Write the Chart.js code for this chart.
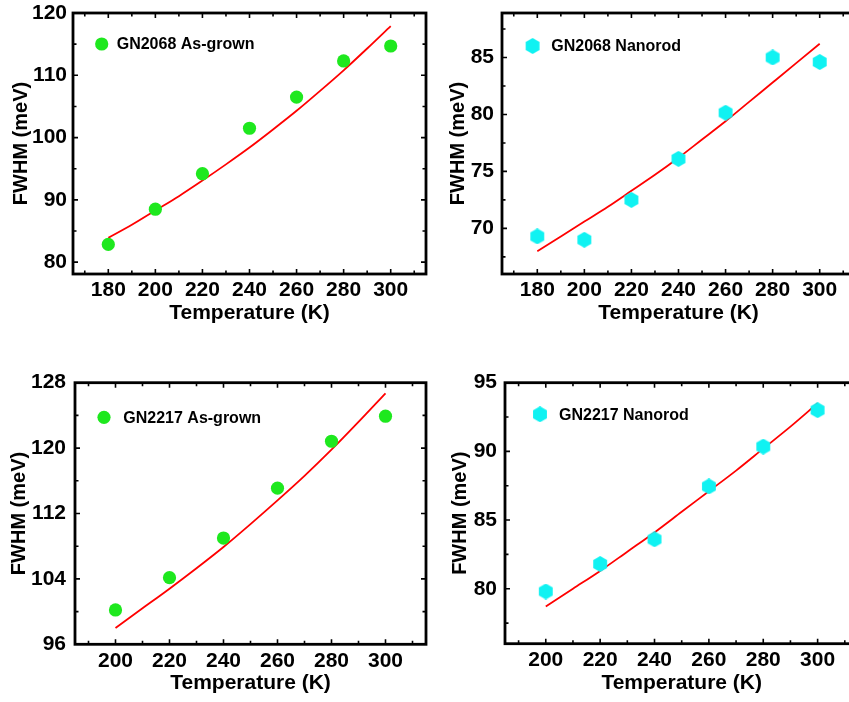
<!DOCTYPE html>
<html>
<head>
<meta charset="utf-8">
<script src="https://cdn.jsdelivr.net/npm/chart.js@4.4.1/dist/chart.umd.min.js"></script>
<style>
  html, body { margin: 0; padding: 0; background: #fff; width: 849px; height: 702px; overflow: hidden; }
  canvas { position: absolute; }
</style>
</head>
<body>
<canvas id="p1" width="440" height="340" style="left:0px; top:0px;"></canvas>
<canvas id="p2" width="440" height="340" style="left:425px; top:0px;"></canvas>
<canvas id="p3" width="440" height="342" style="left:0px; top:360px;"></canvas>
<canvas id="p4" width="440" height="342" style="left:425px; top:360px;"></canvas>
<script>
// --- data ---
const temps2068 = [180, 200, 220, 240, 260, 280, 300];
const fwhmAsGrown2068 = [82.85, 88.5, 94.2, 101.5, 106.5, 112.3, 114.7];
const fwhmNanorod2068 = [69.3, 69.0, 72.5, 76.1, 80.15, 85.0, 84.6];

const fitTemps2068 = [180, 190, 200, 210, 220, 230, 240, 250, 260, 270, 280, 290, 300];
const fitAsGrown2068 = [83.9, 86.0, 88.3, 90.6, 93.1, 95.7, 98.4, 101.3, 104.3, 107.5, 110.8, 114.3, 117.9];
const fitNanorod2068 = [68.0, 69.3, 70.6, 71.9, 73.3, 74.7, 76.2, 77.8, 79.4, 81.1, 82.8, 84.5, 86.2];

const temps2217 = [200, 220, 240, 260, 280, 300];
const fwhmAsGrown2217 = [100.2, 104.15, 109.0, 115.1, 120.84, 123.9];
const fwhmNanorod2217 = [79.8, 81.8, 83.6, 87.45, 90.35, 93.0];

const fitTemps2217 = [200, 210, 220, 230, 240, 250, 260, 270, 280, 290, 300];
const fitAsGrown2217 = [98.0, 100.4, 102.8, 105.3, 107.9, 110.7, 113.6, 116.6, 119.8, 123.2, 126.7];
const fitNanorod2217 = [78.7, 80.0, 81.3, 82.7, 84.1, 85.6, 87.1, 88.6, 90.2, 91.8, 93.5];

// tick labels
const xTicks2068 = [180, 200, 220, 240, 260, 280, 300];
const xTicks2217 = [200, 220, 240, 260, 280, 300];
const yTicksP1 = [80, 90, 100, 110, 120];
const yTicksP2 = [70, 75, 80, 85];
const yTicksP3 = [96, 104, 112, 120, 128];
const yTicksP4 = [80, 85, 90, 95];

const FONT = "'Liberation Sans', Arial, Helvetica, sans-serif";
const GREEN = '#1EE81E';
const CYAN = '#10F2F2';

// hexagon marker (pointy top/bottom)
function hexMarker(size, color) {
    const c = document.createElement('canvas');
    c.width = size; c.height = size;
    const g = c.getContext('2d');
    const r = size / 2, cx = r, cy = r;
    g.fillStyle = color;
    g.beginPath();
    for (let i = 0; i < 6; i++) {
        const a = Math.PI / 2 + i * Math.PI / 3;
        const px = cx + r * Math.cos(a), py = cy + r * Math.sin(a);
        if (i === 0) g.moveTo(px, py); else g.lineTo(px, py);
    }
    g.closePath(); g.fill();
    return c;
}

// box frame + inward ticks on all sides
const framePlugin = {
    id: 'frame',
    afterDatasetsDraw(chart) {
        const { ctx, chartArea: a, scales: { x, y } } = chart;
        ctx.save();
        ctx.strokeStyle = '#000';
        ctx.lineWidth = 1.6;
        const tick = (scale, horiz, len) => (v) => {
            const p = scale.getPixelForValue(v);
            ctx.beginPath();
            if (horiz) {
                ctx.moveTo(p, a.bottom); ctx.lineTo(p, a.bottom - len);
                ctx.moveTo(p, a.top); ctx.lineTo(p, a.top + len);
            } else {
                ctx.moveTo(a.left, p); ctx.lineTo(a.left + len, p);
                ctx.moveTo(a.right, p); ctx.lineTo(a.right - len, p);
            }
            ctx.stroke();
        };
        [[x, true], [y, false]].forEach(([s, horiz]) => {
            const vals = s.ticks.map(t => t.value);
            const step = vals[1] - vals[0];
            vals.forEach(tick(s, horiz, 5));
            const minors = [];
            for (let v = vals[0] - step / 2; v <= s.max; v += step) if (v >= s.min) minors.push(v);
            minors.forEach(tick(s, horiz, 3.5));
        });
        ctx.lineWidth = 2.8;
        ctx.strokeRect(a.left, a.top, a.right - a.left, a.bottom - a.top);
        ctx.restore();
    }
};

// legend drawn inside the plot area
const legendPlugin = {
    id: 'innerLegend',
    afterDraw(chart, args, opts) {
        const { ctx, chartArea: a } = chart;
        const ds = chart.data.datasets[0];
        const mx = a.left + opts.mx, my = a.top + opts.my;
        ctx.save();
        if (ds.pointStyle instanceof HTMLCanvasElement) {
            const im = ds.pointStyle;
            ctx.drawImage(im, mx - im.width / 2, my - im.height / 2);
        } else {
            ctx.fillStyle = ds.backgroundColor;
            ctx.beginPath(); ctx.arc(mx, my, ds.pointRadius, 0, Math.PI * 2); ctx.fill();
        }
        ctx.fillStyle = '#000';
        ctx.font = 'bold 16px ' + FONT;
        ctx.textBaseline = 'middle';
        ctx.textAlign = 'left';
        ctx.fillText(ds.label, a.left + opts.tx, my + 1);
        ctx.restore();
    }
};

function makePanel(id, cfg) {
    const pts = cfg.temps.map((t, i) => ({ x: t, y: cfg.vals[i] }));
    const fit = cfg.fitTemps.map((t, i) => ({ x: t, y: cfg.fit[i] }));
    const marker = cfg.hex
        ? { pointStyle: hexMarker(16, CYAN), backgroundColor: CYAN }
        : { pointStyle: 'circle', pointRadius: 6.6, backgroundColor: GREEN };
    return new Chart(document.getElementById(id), {
        type: 'scatter',
        data: {
            datasets: [
                Object.assign({ label: cfg.label, data: pts, borderWidth: 0, pointHoverRadius: 6.6 }, marker),
                { label: 'fit', type: 'line', data: fit, showLine: true, borderColor: '#FF0000', borderWidth: 1.8,
                  pointRadius: 0, fill: false, cubicInterpolationMode: 'monotone' }
            ]
        },
        options: {
            responsive: false, animation: false, devicePixelRatio: 1,
            layout: { padding: { top: cfg.top, right: cfg.right, left: 0, bottom: 0 } },
            plugins: {
                legend: { display: false }, tooltip: { enabled: false },
                innerLegend: cfg.legend
            },
            scales: {
                x: {
                    type: 'linear', min: cfg.xMin, max: cfg.xMax,
                    afterBuildTicks: s => { s.ticks = cfg.xTicks.map(v => ({ value: v })); },
                    afterFit: s => { s.height = cfg.xH; s.paddingLeft = 0; s.paddingRight = 0; },
                    grid: { display: false, drawTicks: false }, border: { display: false },
                    ticks: { padding: 4, color: '#000', font: { family: FONT, size: 21, weight: 'bold' } },
                    title: { display: true, text: 'Temperature (K)', color: '#000',
                             font: { family: FONT, size: 21, weight: 'bold' }, padding: { top: 0, bottom: cfg.xTitlePad } }
                },
                y: {
                    type: 'linear', min: cfg.yMin, max: cfg.yMax,
                    afterBuildTicks: s => { s.ticks = cfg.yTicks.map(v => ({ value: v })); },
                    afterFit: s => { s.width = cfg.yW; s.paddingTop = 0; s.paddingBottom = 0; },
                    grid: { display: false, drawTicks: false }, border: { display: false },
                    ticks: { padding: cfg.yTickPad, color: '#000', font: { family: FONT, size: 21, weight: 'bold' } },
                    title: { display: true, text: 'FWHM (meV)', color: '#000',
                             font: { family: FONT, size: 20, weight: 'bold' }, padding: { top: cfg.yTitlePad, bottom: 0 } }
                }
            }
        },
        plugins: [framePlugin, legendPlugin]
    });
}

makePanel('p1', {
    label: 'GN2068 As-grown', temps: temps2068, vals: fwhmAsGrown2068, fitTemps: fitTemps2068, fit: fitAsGrown2068,
    xMin: 165, xMax: 315, yMin: 78.1, yMax: 120, xTicks: xTicks2068, yTicks: yTicksP1,
    top: 13, right: 14, xH: 66, yW: 73, xTitlePad: 14, yTitlePad: 9, yTickPad: 6,
    legend: { mx: 28.7, my: 31, tx: 43.7 }
});
makePanel('p2', {
    label: 'GN2068 Nanorod', hex: true, temps: temps2068, vals: fwhmNanorod2068, fitTemps: fitTemps2068, fit: fitNanorod2068,
    xMin: 165, xMax: 315, yMin: 66, yMax: 88.9, xTicks: xTicks2068, yTicks: yTicksP2,
    top: 13, right: 10, xH: 66, yW: 77, xTitlePad: 14, yTitlePad: 21, yTickPad: 8,
    legend: { mx: 30.6, my: 33, tx: 49.3 }
});
makePanel('p3', {
    label: 'GN2217 As-grown', temps: temps2217, vals: fwhmAsGrown2217, fitTemps: fitTemps2217, fit: fitAsGrown2217,
    xMin: 185, xMax: 315, yMin: 96, yMax: 128, xTicks: xTicks2217, yTicks: yTicksP3,
    top: 22.7, right: 14, xH: 57.7, yW: 75, xTitlePad: 6, yTitlePad: 7, yTickPad: 9,
    legend: { mx: 29, my: 34.6, tx: 48.3 }
});
makePanel('p4', {
    label: 'GN2217 Nanorod', hex: true, temps: temps2217, vals: fwhmNanorod2217, fitTemps: fitTemps2217, fit: fitNanorod2217,
    xMin: 185, xMax: 315, yMin: 76, yMax: 95, xTicks: xTicks2217, yTicks: yTicksP4,
    top: 22.7, right: 5, xH: 58.3, yW: 80, xTitlePad: 6, yTitlePad: 23, yTickPad: 8,
    legend: { mx: 35, my: 31.6, tx: 54 }
});
</script>
</body>
</html>
